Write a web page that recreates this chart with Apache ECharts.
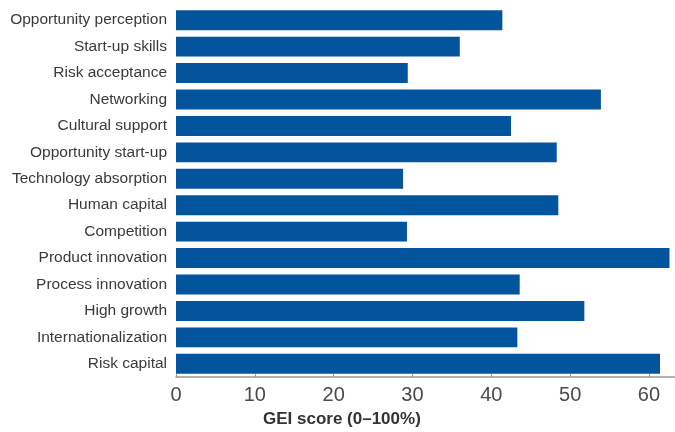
<!DOCTYPE html>
<html><head><meta charset="utf-8">
<script src="https://cdn.jsdelivr.net/npm/echarts@6/dist/echarts.min.js"></script>
<style>html,body{margin:0;padding:0;background:#fff}#c{width:675px;height:432px}</style>
</head><body><div id="c"></div>
<script>
const categories = ["Opportunity perception","Start-up skills","Risk acceptance","Networking","Cultural support","Opportunity start-up","Technology absorption","Human capital","Competition","Product innovation","Process innovation","High growth","Internationalization","Risk capital"];
const scores = [41.4,36.0,29.4,53.9,42.5,48.3,28.8,48.5,29.3,62.6,43.6,51.8,43.3,61.4];
const xTicks = [0,10,20,30,40,50,60];
const axisTitle = "GEI score (0–100%)";

const chart = echarts.init(document.getElementById('c'));
chart.setOption({
  animation:false,
  grid:{left:176,right:0,top:7,bottom:55,outerBoundsMode:'none',containLabel:false},
  xAxis:{type:'value',min:0,max:63.3,interval:10,
    axisLine:{show:true,lineStyle:{color:'#999',width:1.5}},
    axisTick:{show:true,inside:true,length:3,lineStyle:{color:'#999'},customValues:xTicks},
    splitLine:{show:false},
    axisLabel:{fontSize:20,color:'#4a4a4a',fontFamily:'Liberation Sans',margin:8,customValues:xTicks,
      formatter:v=>xTicks.includes(v)?String(v):''}},
  yAxis:{type:'category',data:categories,inverse:true,
    axisLine:{show:false},axisTick:{show:false},
    axisLabel:{fontSize:15.5,color:'#3a3a3a',fontFamily:'Liberation Sans',margin:9}},
  graphic:[{type:'text',left:263,top:411,style:{text:axisTitle,font:'bold 17px "Liberation Sans"',fill:'#333'}}],
  series:[{type:'bar',data:scores,barCategoryGap:'24.5%',itemStyle:{color:'#02559c'}}]
});
</script></body></html>
